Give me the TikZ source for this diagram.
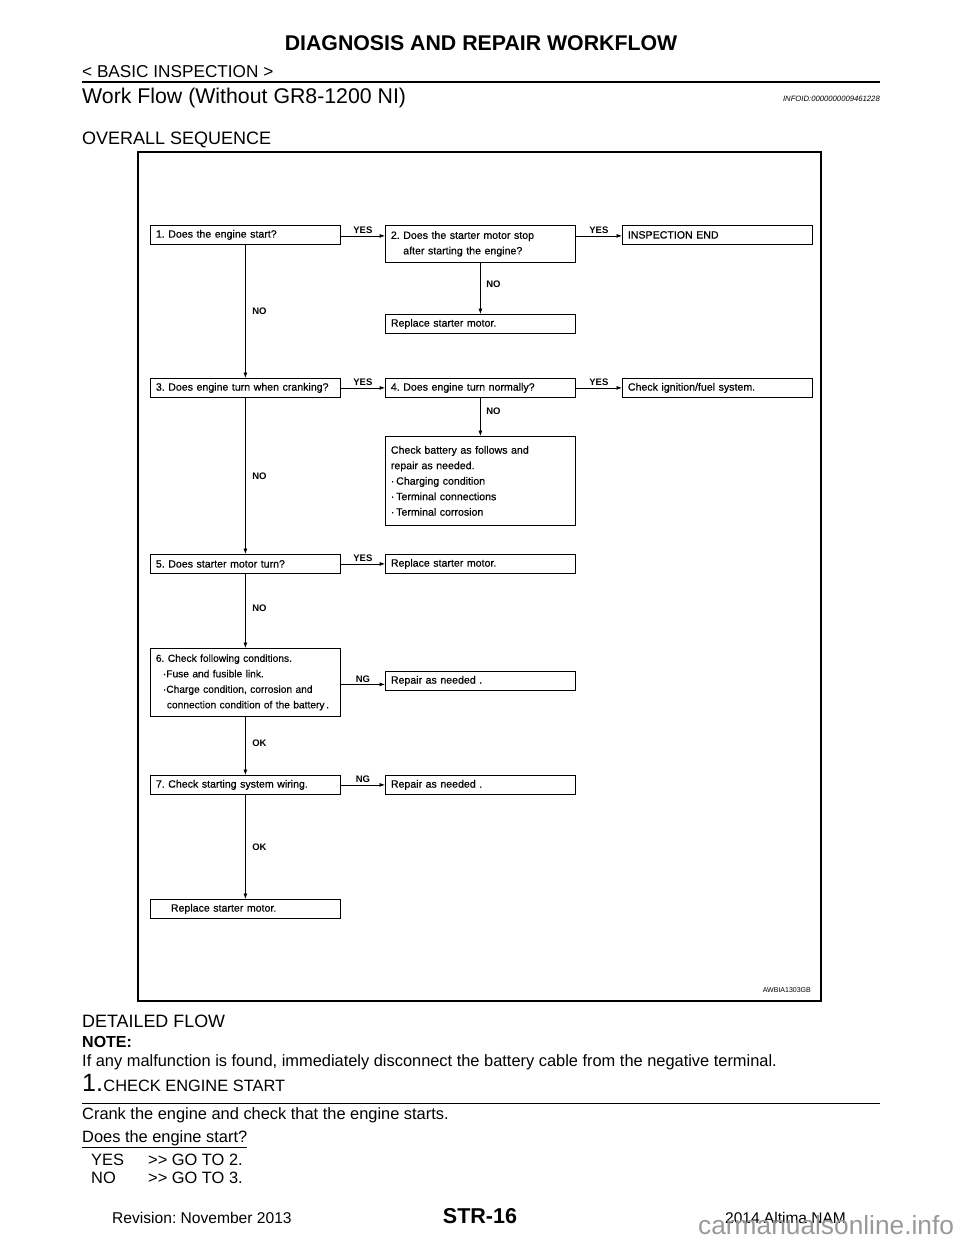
\documentclass[tikz,border=0pt]{standalone}
\usepackage{fontspec}
\setmainfont{Liberation Sans}
\newfontfamily\boxfont[FakeBold=0.4]{Liberation Sans}
\usetikzlibrary{arrows.meta,positioning}
\frenchspacing
\tikzset
{
    stepbox/.style = {draw=black, line width=0.8pt, anchor=north west, inner xsep=5.5pt, inner ysep=0pt, text width=179pt, minimum height=19pt, align=left, font=\boxfont\fontsize{10.6}{15.5}\selectfont},
    flowarrow/.style = {draw=black, line width=0.7pt, -{Latex[length=5.5pt,width=4pt]}},
    answer/.style = {font=\bfseries\fontsize{9.5}{10}\selectfont, inner sep=1.5pt},
    pagetext/.style = {anchor=base west, inner sep=0pt, font=\fontsize{16.4}{19}\selectfont}
}

\begin{document}
\begin{tikzpicture}[x=1pt, y=-1pt]
\useasboundingbox (0,0) rectangle (960,1242);
% page header
\node[anchor=base, inner sep=0pt, font=\bfseries\fontsize{21.3}{24}\selectfont] (title) at (481,50) {DIAGNOSIS AND REPAIR WORKFLOW};
\node[pagetext, font=\fontsize{17.2}{20}\selectfont] (section) at (82,77) {< BASIC INSPECTION >};
\draw[line width=2pt] (82,82) -- (880,82);
\node[pagetext, font=\fontsize{21.3}{24}\selectfont] (worktitle) at (82,103) {Work Flow (Without GR8-1200 NI)};
\node[anchor=base east, inner sep=0pt, font=\itshape\fontsize{7.7}{9}\selectfont] (infoid) at (880,101) {INFOID:0000000009461228};
\node[pagetext, font=\fontsize{18}{20}\selectfont] (overall) at (82,144) {OVERALL SEQUENCE};

% flow chart
\draw[line width=1.2pt] (138,152) rectangle (821,1001);
\node[anchor=base east, inner sep=0pt, font=\fontsize{7}{8}\selectfont] (figid) at (811,992) {AWBIA1303GB};

\node[stepbox] (q1) at (150,225) {1. Does the engine start?};
\node[stepbox, minimum height=37pt] (q2) at (385,225) {2.~Does the starter motor stop\\\hphantom{2.~}after starting the engine?};
\node[stepbox] (done) at (622,225) {INSPECTION END};
\node[stepbox] (rep1) at (385,314) {Replace starter motor.};
\node[stepbox] (q3) at (150,378) {3. Does engine turn when cranking?};
\node[stepbox] (q4) at (385,378) {4. Does engine turn normally?};
\node[stepbox] (ign) at (622,378) {Check ignition/fuel system.};
\node[stepbox, minimum height=89pt] (battery) at (385,436) {Check battery as follows and\\repair as needed.\\·\,Charging condition\\·\,Terminal connections\\·\,Terminal corrosion};
\node[stepbox] (q5) at (150,554) {5. Does starter motor turn?};
\node[stepbox] (rep2) at (385,554) {Replace starter motor.};
\node[stepbox, minimum height=68pt, font=\boxfont\fontsize{10.2}{15.5}\selectfont] (q6) at (150,648) {6. Check following conditions.\\\hspace*{7pt}·Fuse and fusible link.\\\hspace*{7pt}·Charge condition, corrosion and\\\hspace*{11pt}connection condition of the battery\,.};
\node[stepbox] (fix6) at (385,671) {Repair as needed .};
\node[stepbox] (q7) at (150,775) {7. Check starting system wiring.};
\node[stepbox] (fix7) at (385,775) {Repair as needed .};
\node[stepbox] (rep3) at (150,899) {\hspace*{15pt}Replace starter motor.};

% yes/no answers
\draw[flowarrow] ([yshift=-1pt]q1.east) -- ([yshift=-1pt]q1.east -| q2.west) node[answer, midway, above] {YES};
\draw[flowarrow] ([yshift=-1pt]q1.east -| q2.east) -- ([yshift=-1pt]q1.east -| done.west) node[answer, midway, above] {YES};
\draw[flowarrow] (q2.south) -- (rep1.north) node[answer, pos=0.42, right=4pt] {NO};
\draw[flowarrow] (q1.south) -- (q3.north) node[answer, midway, right=5pt] {NO};
\draw[flowarrow] (q3.east) -- (q4.west) node[answer, midway, above] {YES};
\draw[flowarrow] (q4.east) -- (ign.west) node[answer, midway, above] {YES};
\draw[flowarrow] (q4.south) -- (battery.north) node[answer, pos=0.36, right=4pt] {NO};
\draw[flowarrow] (q3.south) -- (q5.north) node[answer, midway, right=5pt] {NO};
\draw[flowarrow] (q5.east) -- (rep2.west) node[answer, midway, above] {YES};
\draw[flowarrow] (q5.south) -- (q6.north) node[answer, pos=0.47, right=5pt] {NO};
\draw[flowarrow] ([yshift=-2pt]q6.east) -- ([yshift=-2pt]q6.east -| fix6.west) node[answer, midway, above] {NG};
\draw[flowarrow] (q6.south) -- (q7.north) node[answer, pos=0.46, right=5pt] {OK};
\draw[flowarrow] (q7.east) -- (fix7.west) node[answer, midway, above] {NG};
\draw[flowarrow] (q7.south) -- (rep3.north) node[answer, midway, right=5pt] {OK};

% detailed flow
\node[pagetext, font=\fontsize{17.9}{20}\selectfont] (detailed) at (82,1027) {DETAILED FLOW};
\node[pagetext, font=\bfseries\fontsize{16}{19}\selectfont] (note) at (82,1047) {NOTE:};
\node[pagetext] (notetext) at (82,1066) {If any malfunction is found, immediately disconnect the battery cable from the negative terminal.};
\node[pagetext, font=\fontsize{25}{28}\selectfont] (stepnum) at (82,1091) {1.};
\node[pagetext, anchor=base west] (steptitle) at (stepnum.base east) {CHECK ENGINE START};
\draw[line width=0.8pt] (82,1103) -- (880,1103);
\node[pagetext] (crank) at (82,1119) {Crank the engine and check that the engine starts.};
\node[pagetext] (question) at (82,1142) {\underline{Does the engine start?}};
\node[pagetext] (yes) at (91,1165) {YES};
\node[pagetext] (yesgo) at (148,1165) {>\kern0pt> GO TO 2.};
\node[pagetext] (no) at (91,1183) {NO};
\node[pagetext] (nogo) at (148,1183) {>\kern0pt> GO TO 3.};

% page footer
\node[pagetext, font=\fontsize{15.6}{18}\selectfont] (revision) at (112,1223) {Revision: November 2013};
\node[anchor=base, inner sep=0pt, font=\bfseries\fontsize{21.5}{24}\selectfont] (pagenum) at (480,1223) {STR-16};
\node[anchor=base east, inner sep=0pt, font=\fontsize{15.5}{18}\selectfont] (model) at (846,1223) {2014 Altima NAM};
\node[anchor=base west, inner sep=0pt, text=black!40, font=\fontsize{26.3}{30}\selectfont] (watermark) at (698,1234) {carmanualsonline.info};
\end{tikzpicture}
\end{document}
